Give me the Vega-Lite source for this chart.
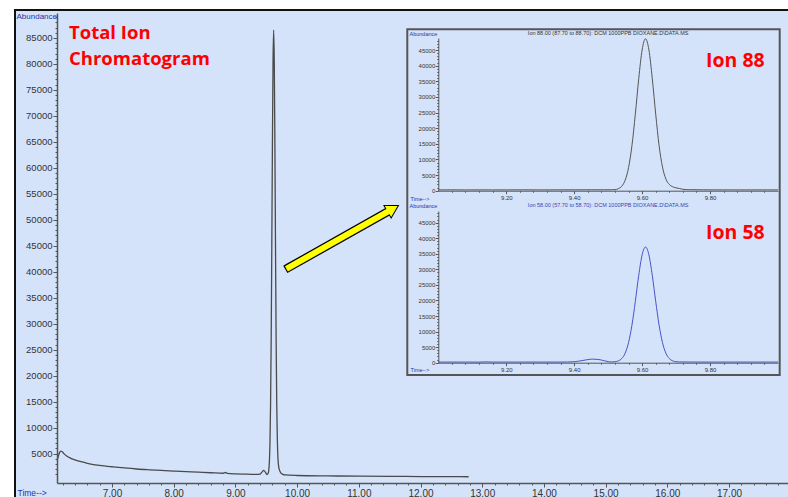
{
  "$schema": "https://vega.github.io/schema/vega-lite/v6.json",
  "width": 731,
  "height": 470,
  "autosize": {"type": "none"},
  "padding": {"left": 57, "top": 13, "right": 0, "bottom": 14},
  "background": "#ffffff",
  "config": {
    "view": {"stroke": null},
    "axis": {
      "grid": false,
      "labelFont": "Liberation Sans Narrow, Liberation Sans, Arial",
      "titleFont": "Liberation Sans, Arial",
      "titleFontWeight": "normal",
      "titleColor": "#2233aa",
      "labelColor": "#333333",
      "tickColor": "#555555",
      "domainColor": "#555555",
      "labelFlush": false,
      "labelOverlap": false
    }
  },
  "datasets": {
    "tic": [
      {"time": 6.11, "abundance": 3700}, {"time": 6.13, "abundance": 4500}, {"time": 6.15, "abundance": 5200},
      {"time": 6.17, "abundance": 5500}, {"time": 6.19, "abundance": 5400}, {"time": 6.22, "abundance": 5000},
      {"time": 6.26, "abundance": 4600}, {"time": 6.30, "abundance": 4300}, {"time": 6.35, "abundance": 4000},
      {"time": 6.40, "abundance": 3800}, {"time": 6.50, "abundance": 3450}, {"time": 6.60, "abundance": 3150},
      {"time": 6.70, "abundance": 2900}, {"time": 6.80, "abundance": 2750}, {"time": 6.90, "abundance": 2600},
      {"time": 7.00, "abundance": 2480}, {"time": 7.20, "abundance": 2250}, {"time": 7.40, "abundance": 2050},
      {"time": 7.60, "abundance": 1900}, {"time": 7.80, "abundance": 1770}, {"time": 8.00, "abundance": 1650},
      {"time": 8.20, "abundance": 1540}, {"time": 8.40, "abundance": 1430}, {"time": 8.60, "abundance": 1330},
      {"time": 8.80, "abundance": 1230}, {"time": 8.84, "abundance": 1380}, {"time": 8.87, "abundance": 1200},
      {"time": 9.00, "abundance": 1100}, {"time": 9.20, "abundance": 1050}, {"time": 9.35, "abundance": 1000},
      {"time": 9.40, "abundance": 1080}, {"time": 9.43, "abundance": 1450}, {"time": 9.46, "abundance": 1800},
      {"time": 9.49, "abundance": 1350}, {"time": 9.51, "abundance": 1000}, {"time": 9.52, "abundance": 1050},
      {"time": 9.53, "abundance": 1210}, {"time": 9.54, "abundance": 1750}, {"time": 9.55, "abundance": 3280},
      {"time": 9.56, "abundance": 6960}, {"time": 9.57, "abundance": 14420}, {"time": 9.58, "abundance": 27160},
      {"time": 9.59, "abundance": 44950}, {"time": 9.60, "abundance": 64610}, {"time": 9.61, "abundance": 80430},
      {"time": 9.62, "abundance": 86500}, {"time": 9.63, "abundance": 80430}, {"time": 9.64, "abundance": 64610},
      {"time": 9.65, "abundance": 44950}, {"time": 9.66, "abundance": 27160}, {"time": 9.67, "abundance": 14720},
      {"time": 9.68, "abundance": 7560}, {"time": 9.69, "abundance": 4080}, {"time": 9.70, "abundance": 2650},
      {"time": 9.71, "abundance": 2010}, {"time": 9.72, "abundance": 1650}, {"time": 9.74, "abundance": 1250},
      {"time": 9.77, "abundance": 1000}, {"time": 9.80, "abundance": 900}, {"time": 10.0, "abundance": 800},
      {"time": 10.5, "abundance": 720}, {"time": 11.0, "abundance": 680}, {"time": 11.5, "abundance": 640},
      {"time": 12.0, "abundance": 600}, {"time": 12.5, "abundance": 570}, {"time": 12.78, "abundance": 560}
    ],
    "ion88": [
      {"time": 9.00, "abundance": 250}, {"time": 9.04, "abundance": 270}, {"time": 9.08, "abundance": 250},
      {"time": 9.12, "abundance": 265}, {"time": 9.16, "abundance": 250}, {"time": 9.20, "abundance": 260},
      {"time": 9.25, "abundance": 275}, {"time": 9.30, "abundance": 255}, {"time": 9.35, "abundance": 270},
      {"time": 9.40, "abundance": 280}, {"time": 9.45, "abundance": 290}, {"time": 9.49, "abundance": 290},
      {"time": 9.51, "abundance": 300}, {"time": 9.52, "abundance": 325}, {"time": 9.53, "abundance": 650},
      {"time": 9.54, "abundance": 1420}, {"time": 9.55, "abundance": 3330}, {"time": 9.56, "abundance": 7350},
      {"time": 9.57, "abundance": 14400}, {"time": 9.58, "abundance": 24470}, {"time": 9.59, "abundance": 35800},
      {"time": 9.60, "abundance": 45030}, {"time": 9.61, "abundance": 48600}, {"time": 9.62, "abundance": 45030},
      {"time": 9.63, "abundance": 35800}, {"time": 9.64, "abundance": 24470}, {"time": 9.65, "abundance": 14400},
      {"time": 9.66, "abundance": 7550}, {"time": 9.67, "abundance": 3730}, {"time": 9.68, "abundance": 2000},
      {"time": 9.69, "abundance": 1250}, {"time": 9.70, "abundance": 900}, {"time": 9.71, "abundance": 700},
      {"time": 9.72, "abundance": 450}, {"time": 9.74, "abundance": 320}, {"time": 9.78, "abundance": 280},
      {"time": 9.82, "abundance": 260}, {"time": 9.86, "abundance": 255}, {"time": 9.90, "abundance": 250},
      {"time": 9.95, "abundance": 260}, {"time": 10.00, "abundance": 250}
    ],
    "ion58": [
      {"time": 9.00, "abundance": 200}, {"time": 9.04, "abundance": 210}, {"time": 9.08, "abundance": 200},
      {"time": 9.12, "abundance": 190}, {"time": 9.14, "abundance": 260}, {"time": 9.16, "abundance": 200},
      {"time": 9.20, "abundance": 210}, {"time": 9.25, "abundance": 200}, {"time": 9.30, "abundance": 210},
      {"time": 9.35, "abundance": 200}, {"time": 9.38, "abundance": 230}, {"time": 9.40, "abundance": 320},
      {"time": 9.42, "abundance": 620}, {"time": 9.44, "abundance": 1000}, {"time": 9.455, "abundance": 1150},
      {"time": 9.47, "abundance": 1050}, {"time": 9.49, "abundance": 600}, {"time": 9.50, "abundance": 330},
      {"time": 9.51, "abundance": 240}, {"time": 9.52, "abundance": 315}, {"time": 9.53, "abundance": 590},
      {"time": 9.54, "abundance": 1330}, {"time": 9.55, "abundance": 3050}, {"time": 9.56, "abundance": 6450},
      {"time": 9.57, "abundance": 12040}, {"time": 9.58, "abundance": 19700}, {"time": 9.59, "abundance": 28020},
      {"time": 9.60, "abundance": 34650}, {"time": 9.61, "abundance": 37200}, {"time": 9.62, "abundance": 34650},
      {"time": 9.63, "abundance": 28020}, {"time": 9.64, "abundance": 19700}, {"time": 9.65, "abundance": 12040},
      {"time": 9.66, "abundance": 6450}, {"time": 9.67, "abundance": 3050}, {"time": 9.68, "abundance": 1330},
      {"time": 9.69, "abundance": 590}, {"time": 9.70, "abundance": 315}, {"time": 9.71, "abundance": 240},
      {"time": 9.75, "abundance": 210}, {"time": 9.80, "abundance": 200}, {"time": 9.85, "abundance": 205},
      {"time": 9.90, "abundance": 200}, {"time": 9.95, "abundance": 200}, {"time": 10.00, "abundance": 200}
    ]
  },
  "layer": [
    {
      "layer": [
        {
          "data": {"values": [{}]},
          "mark": {"type": "rect", "fill": "#d5e3fa", "stroke": "#111111", "strokeWidth": 2},
          "encoding": {
            "x": {"datum": 5.428, "type": "quantitative", "scale": {"domain": [6.1086, 17.9562], "nice": false, "zero": false}},
            "x2": {"datum": 18.6},
            "y": {"datum": 90363, "type": "quantitative", "scale": {"domain": [-645, 89795], "nice": false, "zero": false}},
            "y2": {"datum": -4500}
          }
        },
        {
          "data": {"name": "tic"},
          "mark": {"type": "line", "color": "#4a4a4a", "strokeWidth": 1.3, "interpolate": "monotone"},
          "encoding": {
            "x": {
              "field": "time", "type": "quantitative",
              "scale": {"domain": [6.1086, 17.9562], "nice": false, "zero": false},
              "axis": {
                "orient": "bottom", "zindex": 1, "labelOverlap": false, "labelBound": false, "tickCount": 1000,
                "title": "Time-->", "titleAnchor": "start", "titleAlign": "left", "titleBaseline": "middle",
                "titleX": -40, "titleY": 9, "titleFontSize": 8.5,
                "values": [6.2,6.4,6.6,6.8,7,7.2,7.4,7.6,7.8,8,8.2,8.4,8.6,8.8,9,9.2,9.4,9.6,9.8,10,10.2,10.4,10.6,10.8,11,11.2,11.4,11.6,11.8,12,12.2,12.4,12.6,12.8,13,13.2,13.4,13.6,13.8,14,14.2,14.4,14.6,14.8,15,15.2,15.4,15.6,15.8,16,16.2,16.4,16.6,16.8,17,17.2,17.4,17.6,17.8],
                "labelExpr": "abs(datum.value - round(datum.value)) < 0.001 ? format(datum.value, '.2f') : ''",
                "tickSize": {"condition": {"test": "abs(datum.value - round(datum.value)) < 0.001", "value": 4}, "value": 2},
                "labelFontSize": 10, "labelPadding": 1, "domainWidth": 1.5
              }
            },
            "y": {
              "field": "abundance", "type": "quantitative",
              "scale": {"domain": [-645, 89795], "nice": false, "zero": false},
              "axis": {
                "orient": "left", "zindex": 1, "labelOverlap": false, "labelBound": false, "tickCount": 1000,
                "title": "Abundance", "titleAngle": 0, "titleAlign": "left", "titleBaseline": "middle",
                "titleX": -41, "titleY": 3, "titleFontSize": 8,
                "values": [1000,2000,3000,4000,5000,6000,7000,8000,9000,10000,11000,12000,13000,14000,15000,16000,17000,18000,19000,20000,21000,22000,23000,24000,25000,26000,27000,28000,29000,30000,31000,32000,33000,34000,35000,36000,37000,38000,39000,40000,41000,42000,43000,44000,45000,46000,47000,48000,49000,50000,51000,52000,53000,54000,55000,56000,57000,58000,59000,60000,61000,62000,63000,64000,65000,66000,67000,68000,69000,70000,71000,72000,73000,74000,75000,76000,77000,78000,79000,80000,81000,82000,83000,84000,85000,86000,87000,88000,89000],
                "labelExpr": "datum.value % 5000 === 0 ? format(datum.value, 'd') : ''",
                "tickSize": {"condition": {"test": "datum.value % 5000 === 0", "value": 4}, "value": 2},
                "labelFontSize": 9.5, "labelPadding": 1, "domainWidth": 1.5
              }
            }
          }
        },
        {
          "data": {"values": [{}]},
          "mark": {"type": "rule", "stroke": "#000000", "strokeWidth": 8.5, "strokeCap": "square"},
          "encoding": {
            "x": {"datum": 9.869, "type": "quantitative", "scale": {"domain": [6.1086, 17.9562], "nice": false, "zero": false}},
            "x2": {"datum": 11.457},
            "y": {"datum": 40857, "type": "quantitative", "scale": {"domain": [-645, 89795], "nice": false, "zero": false}},
            "y2": {"datum": 51480}
          }
        },
        {
          "data": {"values": [{}]},
          "mark": {"type": "point", "shape": "triangle-right", "angle": 330.1, "size": 210, "filled": true, "fill": "#ffff00", "stroke": "#000000", "strokeWidth": 1, "opacity": 1},
          "encoding": {
            "x": {"datum": 11.554, "type": "quantitative", "scale": {"domain": [6.1086, 17.9562], "nice": false, "zero": false}},
            "y": {"datum": 52162, "type": "quantitative", "scale": {"domain": [-645, 89795], "nice": false, "zero": false}}
          }
        },
        {
          "data": {"values": [{}]},
          "mark": {"type": "rule", "stroke": "#ffff00", "strokeWidth": 6, "strokeCap": "square"},
          "encoding": {
            "x": {"datum": 9.869, "type": "quantitative", "scale": {"domain": [6.1086, 17.9562], "nice": false, "zero": false}},
            "x2": {"datum": 11.457},
            "y": {"datum": 40857, "type": "quantitative", "scale": {"domain": [-645, 89795], "nice": false, "zero": false}},
            "y2": {"datum": 51480}
          }
        },
        {
          "data": {"values": [{"label": "Total Ion", "time": 6.303, "abundance": 84806}, {"label": "Chromatogram", "time": 6.303, "abundance": 79740}]},
          "mark": {"type": "text", "font": "Open Sans", "fontWeight": "bold", "fontSize": 18.5, "color": "#ff0000", "align": "left", "baseline": "alphabetic"},
          "encoding": {
            "x": {"field": "time", "type": "quantitative", "scale": {"domain": [6.1086, 17.9562], "nice": false, "zero": false}},
            "y": {"field": "abundance", "type": "quantitative", "scale": {"domain": [-645, 89795], "nice": false, "zero": false}},
            "text": {"field": "label"}
          }
        }
      ]
    },
    {
      "layer": [
        {
          "data": {"values": [{}]},
          "mark": {"type": "rect", "fill": "#d5e3fa", "stroke": "#555555", "strokeWidth": 2},
          "encoding": {
            "x": {"datum": 8.9087, "type": "quantitative", "scale": {"domain": [9, 10], "range": [381.3, 721], "nice": false, "zero": false}},
            "x2": {"datum": 10.005},
            "y": {"datum": 51620, "type": "quantitative", "scale": {"domain": [0, 48840], "range": [177.7, 25], "nice": false, "zero": false}},
            "y2": {"datum": -58945}
          }
        },
        {
          "data": {"name": "ion88"},
          "mark": {"type": "line", "color": "#555555", "strokeWidth": 1, "interpolate": "monotone"},
          "encoding": {
            "x": {
              "field": "time", "type": "quantitative",
              "scale": {"domain": [9, 10], "range": [381.3, 721], "nice": false, "zero": false},
              "axis": {
                "orient": "bottom", "offset": -292.3, "zindex": 1, "labelOverlap": false, "labelBound": false, "tickCount": 1000,
                "title": "Time-->", "titleAnchor": "start", "titleAlign": "left", "titleBaseline": "middle",
                "titleX": 353, "titleY": 7.3, "titleFontSize": 5.5,
                "values": [9.04,9.08,9.12,9.16,9.2,9.24,9.28,9.32,9.36,9.4,9.44,9.48,9.52,9.56,9.6,9.64,9.68,9.72,9.76,9.8,9.84,9.88,9.92,9.96],
                "labelExpr": "abs(datum.value * 5 - round(datum.value * 5)) < 0.001 ? format(datum.value, '.2f') : ''",
                "tickSize": {"condition": {"test": "abs(datum.value * 5 - round(datum.value * 5)) < 0.001", "value": 3}, "value": 1.5},
                "labelFontSize": 6, "labelPadding": 1, "domainWidth": 1
              }
            },
            "y": {
              "field": "abundance", "type": "quantitative",
              "scale": {"domain": [0, 48840], "range": [177.7, 25], "nice": false, "zero": false},
              "axis": {
                "orient": "left", "offset": -381.3, "zindex": 1, "labelOverlap": false, "labelBound": false, "tickCount": 1000,
                "title": "Abundance", "titleAngle": 0, "titleAlign": "left", "titleBaseline": "middle",
                "titleX": -29.3, "titleY": 20, "titleFontSize": 5.5,
                "values": [0,1000,2000,3000,4000,5000,6000,7000,8000,9000,10000,11000,12000,13000,14000,15000,16000,17000,18000,19000,20000,21000,22000,23000,24000,25000,26000,27000,28000,29000,30000,31000,32000,33000,34000,35000,36000,37000,38000,39000,40000,41000,42000,43000,44000,45000,46000,47000,48000],
                "labelExpr": "datum.value % 5000 === 0 ? format(datum.value, 'd') : ''",
                "tickSize": {"condition": {"test": "datum.value % 5000 === 0", "value": 3}, "value": 1.5},
                "labelFontSize": 6, "labelPadding": 0.5, "domainWidth": 1
              }
            }
          }
        },
        {
          "data": {"values": [{"label": "Ion  88.00 (87.70 to 88.70): DCM 1000PPB DIOXANE.D\\DATA.MS", "time": 9.5, "abundance": 50436}]},
          "mark": {"type": "text", "font": "Liberation Sans", "fontSize": 5.5, "color": "#333333", "align": "center", "baseline": "middle"},
          "encoding": {
            "x": {"field": "time", "type": "quantitative", "scale": {"domain": [9, 10], "range": [381.3, 721], "nice": false, "zero": false}},
            "y": {"field": "abundance", "type": "quantitative", "scale": {"domain": [0, 48840], "range": [177.7, 25], "nice": false, "zero": false}},
            "text": {"field": "label"}
          }
        },
        {
          "data": {"values": [{"label": "Ion 88", "time": 9.788, "abundance": 39658}]},
          "mark": {"type": "text", "font": "Open Sans", "fontWeight": "bold", "fontSize": 19.5, "color": "#ff0000", "align": "left", "baseline": "alphabetic"},
          "encoding": {
            "x": {"field": "time", "type": "quantitative", "scale": {"domain": [9, 10], "range": [381.3, 721], "nice": false, "zero": false}},
            "y": {"field": "abundance", "type": "quantitative", "scale": {"domain": [0, 48840], "range": [177.7, 25], "nice": false, "zero": false}},
            "text": {"field": "label"}
          }
        }
      ]
    },
    {
      "layer": [
        {
          "data": {"name": "ion58"},
          "mark": {"type": "line", "color": "#4a52c8", "strokeWidth": 1, "interpolate": "monotone"},
          "encoding": {
            "x": {
              "field": "time", "type": "quantitative",
              "scale": {"domain": [9, 10], "range": [381.3, 721], "nice": false, "zero": false},
              "axis": {
                "orient": "bottom", "offset": -120.3, "zindex": 1, "labelOverlap": false, "labelBound": false, "tickCount": 1000,
                "title": "Time-->", "titleAnchor": "start", "titleAlign": "left", "titleBaseline": "middle",
                "titleX": 353, "titleY": 6.3, "titleFontSize": 5.5,
                "values": [9.04,9.08,9.12,9.16,9.2,9.24,9.28,9.32,9.36,9.4,9.44,9.48,9.52,9.56,9.6,9.64,9.68,9.72,9.76,9.8,9.84,9.88,9.92,9.96],
                "labelExpr": "abs(datum.value * 5 - round(datum.value * 5)) < 0.001 ? format(datum.value, '.2f') : ''",
                "tickSize": {"condition": {"test": "abs(datum.value * 5 - round(datum.value * 5)) < 0.001", "value": 3}, "value": 1.5},
                "labelFontSize": 6, "labelPadding": 1, "domainWidth": 1
              }
            },
            "y": {
              "field": "abundance", "type": "quantitative",
              "scale": {"domain": [0, 48760], "range": [349.7, 198], "nice": false, "zero": false},
              "axis": {
                "orient": "left", "offset": -381.3, "zindex": 1, "labelOverlap": false, "labelBound": false, "tickCount": 1000,
                "title": "Abundance", "titleAngle": 0, "titleAlign": "left", "titleBaseline": "middle",
                "titleX": -29.3, "titleY": 192, "titleFontSize": 5.5,
                "values": [0,1000,2000,3000,4000,5000,6000,7000,8000,9000,10000,11000,12000,13000,14000,15000,16000,17000,18000,19000,20000,21000,22000,23000,24000,25000,26000,27000,28000,29000,30000,31000,32000,33000,34000,35000,36000,37000,38000,39000,40000,41000,42000,43000,44000,45000,46000,47000,48000],
                "labelExpr": "datum.value % 5000 === 0 ? format(datum.value, 'd') : ''",
                "tickSize": {"condition": {"test": "datum.value % 5000 === 0", "value": 3}, "value": 1.5},
                "labelFontSize": 6, "labelPadding": 0.5, "domainWidth": 1
              }
            }
          }
        },
        {
          "data": {"values": [{"label": "Ion  58.00 (57.70 to 58.70): DCM 1000PPB DIOXANE.D\\DATA.MS", "time": 9.5, "abundance": 50690}]},
          "mark": {"type": "text", "font": "Liberation Sans", "fontSize": 5.5, "color": "#3a44b0", "align": "center", "baseline": "middle"},
          "encoding": {
            "x": {"field": "time", "type": "quantitative", "scale": {"domain": [9, 10], "range": [381.3, 721], "nice": false, "zero": false}},
            "y": {"field": "abundance", "type": "quantitative", "scale": {"domain": [0, 48760], "range": [349.7, 198], "nice": false, "zero": false}},
            "text": {"field": "label"}
          }
        },
        {
          "data": {"values": [{"label": "Ion 58", "time": 9.788, "abundance": 39664}]},
          "mark": {"type": "text", "font": "Open Sans", "fontWeight": "bold", "fontSize": 19.5, "color": "#ff0000", "align": "left", "baseline": "alphabetic"},
          "encoding": {
            "x": {"field": "time", "type": "quantitative", "scale": {"domain": [9, 10], "range": [381.3, 721], "nice": false, "zero": false}},
            "y": {"field": "abundance", "type": "quantitative", "scale": {"domain": [0, 48760], "range": [349.7, 198], "nice": false, "zero": false}},
            "text": {"field": "label"}
          }
        }
      ]
    }
  ],
  "resolve": {
    "scale": {"x": "independent", "y": "independent"},
    "axis": {"x": "independent", "y": "independent"}
  }
}
